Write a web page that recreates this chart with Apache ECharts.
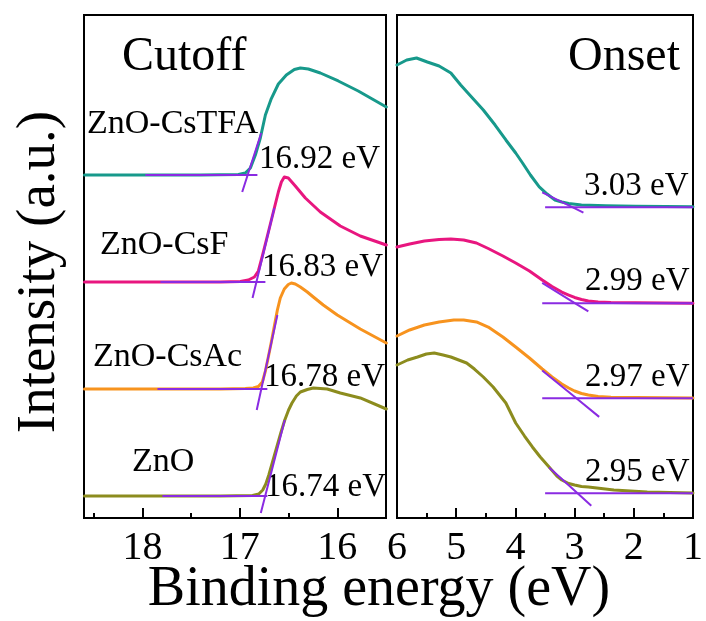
<!DOCTYPE html>
<html>
<head>
<meta charset="utf-8">
<script src="https://cdn.jsdelivr.net/npm/echarts@6/dist/echarts.min.js"></script>
<style>
  html, body { margin: 0; padding: 0; background: #fff; }
  #chart { width: 706px; height: 621px; }
</style>
</head>
<body>
<div id="chart"></div>
<script>
// ---- Samples ----
const samples = ['ZnO-CsTFA', 'ZnO-CsF', 'ZnO-CsAc', 'ZnO'];
const cutoffValues = [16.92, 16.83, 16.78, 16.74];   // secondary-electron cutoff (eV)
const onsetValues = [3.03, 2.99, 2.97, 2.95];        // valence-band onset (eV)

// ---- Cutoff region (binding energy, offset intensity) ----
const cutoffE_CsTFA = [18.595, 17.918, 17.405, 17.015, 16.944, 16.892, 16.841, 16.790, 16.738, 16.677, 16.605, 16.523, 16.441, 16.379, 16.297, 16.174, 15.990, 15.785, 15.641, 15.497];
const cutoffI_CsTFA = [68.19, 68.19, 68.19, 68.29, 68.59, 69.58, 72.17, 75.55, 80.12, 83.38, 86.28, 88.07, 89.17, 89.46, 89.26, 88.47, 86.88, 84.89, 83.30, 81.71];

const cutoffE_CsF = [18.595, 17.815, 17.200, 16.995, 16.913, 16.851, 16.810, 16.769, 16.728, 16.687, 16.646, 16.605, 16.574, 16.544, 16.503, 16.431, 16.328, 16.174, 15.969, 15.764, 15.497];
const cutoffI_CsF = [46.92, 46.92, 46.92, 47.02, 47.32, 47.91, 49.11, 52.09, 55.27, 58.45, 61.63, 64.81, 66.80, 67.79, 67.59, 66.00, 63.62, 60.83, 58.05, 56.06, 54.27];

const cutoffE_CsAc = [18.595, 17.846, 17.200, 16.944, 16.862, 16.810, 16.769, 16.738, 16.708, 16.677, 16.646, 16.615, 16.585, 16.544, 16.503, 16.472, 16.431, 16.379, 16.308, 16.246, 16.144, 16.000, 15.764, 15.497];
const cutoffI_CsAc = [25.65, 25.65, 25.65, 25.75, 25.84, 26.14, 27.04, 29.22, 32.01, 34.99, 38.17, 41.35, 43.74, 45.53, 46.42, 46.72, 46.52, 45.92, 44.93, 43.94, 42.35, 40.36, 37.57, 34.79];

const cutoffE_ZnO = [18.595, 17.795, 17.200, 16.870, 16.806, 16.765, 16.734, 16.703, 16.662, 16.621, 16.580, 16.539, 16.500, 16.465, 16.420, 16.379, 16.308, 16.246, 16.174, 16.103, 15.969, 15.764, 15.497];
const cutoffI_ZnO = [4.37, 4.37, 4.37, 4.47, 4.77, 5.57, 6.76, 8.55, 11.33, 14.12, 16.90, 19.48, 21.47, 22.86, 24.25, 25.05, 25.55, 25.84, 25.75, 25.65, 24.85, 23.86, 21.67];

// Cutoff baselines (start/end energy, level) and tangent lines through the cutoff
const cutoffBaseE = [[17.97, 16.82], [17.815, 16.738], [17.846, 16.718], [17.795, 16.718]];
const cutoffBaseI = [68.19, 46.92, 25.65, 4.37];
const cutoffTanE = [[16.976, cutoffValues[0], 16.781], [16.870, cutoffValues[1], 16.646], [16.827, cutoffValues[2], 16.615], [16.785, cutoffValues[3], 16.539]];
const cutoffTanI = [[64.81, 68.19, 76.54], [43.74, 46.92, 61.63], [21.47, 25.65, 40.36], [0.99, 4.37, 19.48]];

// ---- Onset region ----
const onsetE_CsTFA = [6.0, 5.836, 5.670, 5.488, 5.289, 5.090, 4.924, 4.741, 4.542, 4.343, 4.161, 3.995, 3.879, 3.746, 3.597, 3.464, 3.332, 3.216, 3.100, 2.884, 2.469, 1.972, 1.474, 1.0];
const onsetI_CsTFA = [90.06, 91.05, 91.45, 90.66, 89.86, 88.47, 86.08, 83.70, 81.11, 78.13, 75.15, 72.56, 70.58, 68.19, 65.81, 64.41, 63.22, 62.82, 62.52, 62.23, 62.07, 61.99, 61.93, 61.87];

const onsetE_CsF = [6.0, 5.786, 5.537, 5.289, 5.090, 4.874, 4.658, 4.459, 4.211, 3.995, 3.763, 3.547, 3.381, 3.216, 3.100, 3.000, 2.884, 2.768, 2.602, 2.386, 1.972, 1.474, 1.0];
const onsetI_CsF = [53.88, 54.47, 55.07, 55.37, 55.47, 55.27, 54.67, 53.58, 52.09, 50.70, 49.11, 47.32, 46.02, 44.93, 44.33, 43.84, 43.44, 43.14, 42.94, 42.84, 42.78, 42.74, 42.70];

const onsetE_CsAc = [6.0, 5.786, 5.537, 5.289, 5.040, 4.874, 4.658, 4.459, 4.211, 3.995, 3.763, 3.547, 3.381, 3.216, 3.100, 3.000, 2.884, 2.768, 2.602, 2.386, 1.972, 1.474, 1.0];
const onsetI_CsAc = [36.18, 37.38, 38.37, 38.97, 39.36, 39.36, 38.97, 37.97, 35.98, 34.00, 31.81, 29.62, 28.03, 26.64, 25.84, 25.25, 24.75, 24.45, 24.16, 24.02, 23.94, 23.90, 23.86];

const onsetE_ZnO = [6.0, 5.819, 5.653, 5.504, 5.371, 5.222, 5.090, 4.957, 4.824, 4.692, 4.542, 4.376, 4.161, 3.995, 3.846, 3.713, 3.580, 3.431, 3.299, 3.216, 3.100, 3.000, 2.884, 2.768, 2.552, 2.337, 2.055, 1.773, 1.391, 1.0];
const onsetI_ZnO = [30.42, 31.41, 32.01, 32.60, 32.80, 32.41, 32.01, 31.41, 30.82, 29.62, 28.03, 26.04, 22.86, 18.89, 16.30, 14.12, 12.13, 10.14, 8.35, 7.55, 6.86, 6.56, 6.26, 6.16, 5.86, 5.57, 5.37, 5.17, 5.07, 4.97];

const onsetBaseE = [[3.498, 1.0], [3.547, 1.0], [3.547, 1.0], [3.498, 1.0]];
const onsetBaseI = [61.77, 42.68, 23.80, 4.91];
const onsetTanE = [[3.547, onsetValues[0], 2.851], [3.547, onsetValues[1], 2.768], [3.547, onsetValues[2], 2.585], [3.431, onsetValues[3], 2.718]];
const onsetTanI = [[64.75, 61.77, 60.73], [46.74, 42.68, 41.07], [29.32, 23.80, 20.10], [10.02, 4.91, 2.45]];

// Axis tick values
const cutoffMajor = [16, 17, 18];
const cutoffMinor = [15.5, 16.5, 17.5, 18.5];
const onsetMajor = [1, 2, 3, 4, 5, 6];
const onsetMinor = [1.5, 2.5, 3.5, 4.5, 5.5];

// ---- Drawing ----
const FONT = '"Liberation Serif", "Times New Roman", serif';
const colors = ['#17998b', '#e8167f', '#f7931e', '#8c8c1e'];
const tangentColor = '#8a2be2';

const zip = (xs, ys) => xs.map((x, i) => [x, ys[i]]);
const cutoffCurves = [zip(cutoffE_CsTFA, cutoffI_CsTFA), zip(cutoffE_CsF, cutoffI_CsF), zip(cutoffE_CsAc, cutoffI_CsAc), zip(cutoffE_ZnO, cutoffI_ZnO)];
const onsetCurves = [zip(onsetE_CsTFA, onsetI_CsTFA), zip(onsetE_CsF, onsetI_CsF), zip(onsetE_CsAc, onsetI_CsAc), zip(onsetE_ZnO, onsetI_ZnO)];

const series = [];
function curve(data, color, axisIdx, width) {
  series.push({
    type: 'line', xAxisIndex: axisIdx, yAxisIndex: axisIdx === 0 ? 0 : 1,
    data, showSymbol: false, smooth: false,
    lineStyle: { color, width, join: 'round', cap: 'round' }, z: 2, silent: true, animation: false
  });
}
function straight(data, axisIdx) {
  series.push({
    type: 'line', xAxisIndex: axisIdx, yAxisIndex: axisIdx === 0 ? 0 : 1,
    data, showSymbol: false, smooth: false,
    lineStyle: { color: tangentColor, width: 2 }, z: 3, silent: true, animation: false
  });
}
samples.forEach((s, i) => {
  curve(cutoffCurves[i], colors[i], 0, 3);
  curve(onsetCurves[i], colors[i], 2, 3);
});
samples.forEach((s, i) => {
  straight(cutoffBaseE[i].map(e => [e, cutoffBaseI[i]]), 0);
  straight(zip(cutoffTanE[i], cutoffTanI[i]), 0);
  straight(onsetBaseE[i].map(e => [e, onsetBaseI[i]]), 2);
  straight(zip(onsetTanE[i], onsetTanI[i]), 2);
});

function xAxisPair(gridIndex, min, max, major, minor) {
  return [
    {
      type: 'value', gridIndex, min, max, inverse: true,
      axisLine: { show: false }, splitLine: { show: false },
      axisTick: { show: true, inside: true, length: 10, customValues: major, lineStyle: { color: '#000', width: 2 } },
      axisLabel: { show: true, customValues: major, showMinLabel: true, showMaxLabel: true, margin: 10,
                   fontFamily: FONT, fontSize: 40, color: '#000' }
    },
    {
      type: 'value', gridIndex, min, max, inverse: true, position: 'bottom',
      axisLine: { show: false }, splitLine: { show: false },
      axisTick: { show: true, inside: true, length: 5, customValues: minor, lineStyle: { color: '#000', width: 2 } },
      axisLabel: { show: false }
    }
  ];
}

const labelStyle = (text, x, y, size) => ({
  type: 'text', x, y, silent: true,
  style: { text, fontFamily: FONT, fontSize: size, fill: '#000', align: 'left', verticalAlign: 'middle' }
});

const sampleLabelPos = [[87, 124], [100, 245], [93, 357], [132, 462]];
const cutoffLabelPos = [[259, 159], [262, 267], [264, 377], [265, 487]];
const onsetLabelPos = [[584, 186], [585, 281], [585, 377], [585, 472]];

const graphics = [
  labelStyle('Cutoff', 122, 57, 48),
  labelStyle('Onset', 568, 57, 48),
  { type: 'text', x: 379, y: 590, silent: true,
    style: { text: 'Binding energy (eV)', fontFamily: FONT, fontSize: 56, fill: '#000', align: 'center', verticalAlign: 'middle' } },
  { type: 'text', x: 40, y: 272, rotation: Math.PI / 2, silent: true,
    style: { text: 'Intensity (a.u.)', fontFamily: FONT, fontSize: 55, fill: '#000', align: 'center', verticalAlign: 'middle' } }
];
samples.forEach((s, i) => {
  graphics.push(labelStyle(s, sampleLabelPos[i][0], sampleLabelPos[i][1], 34));
  graphics.push(labelStyle(cutoffValues[i].toFixed(2) + ' eV', cutoffLabelPos[i][0], cutoffLabelPos[i][1], 33));
  graphics.push(labelStyle(onsetValues[i].toFixed(2) + ' eV', onsetLabelPos[i][0], onsetLabelPos[i][1], 33));
});

const chart = echarts.init(document.getElementById('chart'), null, { renderer: 'canvas' });
chart.setOption({
  animation: false,
  backgroundColor: '#fff',
  grid: [
    { left: 84, right: 320, top: 15, bottom: 103, show: true, borderColor: '#000', borderWidth: 2, backgroundColor: 'transparent' },
    { left: 397, right: 7, top: 15, bottom: 103, show: true, borderColor: '#000', borderWidth: 2, backgroundColor: 'transparent' }
  ],
  xAxis: [
    ...xAxisPair(0, 15.5, 18.6, cutoffMajor, cutoffMinor),
    ...xAxisPair(1, 1, 6, onsetMajor, onsetMinor)
  ],
  yAxis: [
    { type: 'value', gridIndex: 0, min: 0, max: 100, show: false },
    { type: 'value', gridIndex: 1, min: 0, max: 100, show: false }
  ],
  series,
  graphic: graphics
});
</script>
</body>
</html>
